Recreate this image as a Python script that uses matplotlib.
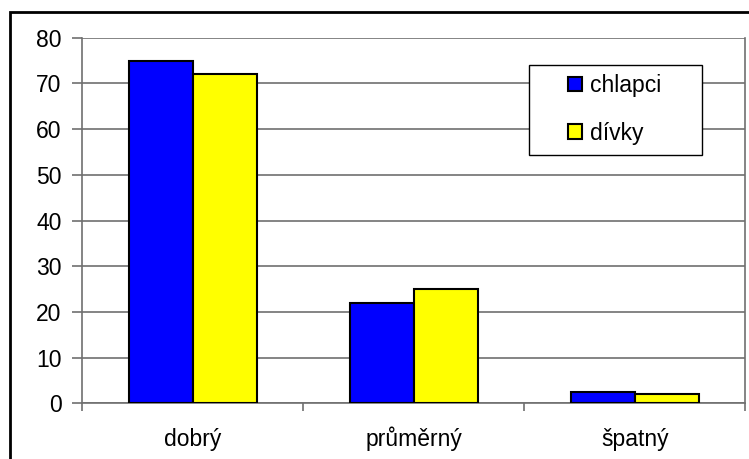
import matplotlib.pyplot as plt
from matplotlib.patches import Rectangle
import numpy as np

plt.rcParams['font.family'] = ['Liberation Sans', 'DejaVu Sans']

kategorie = ['dobrý', 'průměrný', 'špatný']
chlapci = [75, 22, 2.5]
divky = [72, 25, 2]

fig = plt.figure(figsize=(7.49, 4.59), dpi=100)
ax = fig.add_axes([0.1101, 0.1213, 0.8852, 0.7966])

x = np.arange(len(kategorie))
w = 0.29
ax.bar(x - w / 2, chlapci, w, color='#0000ff', edgecolor='black', linewidth=1.5,
       label='chlapci', zorder=3)
ax.bar(x + w / 2, divky, w, color='#ffff00', edgecolor='black', linewidth=1.5,
       label='dívky', zorder=3)

ax.set_xlim(-0.5, 2.5)
ax.set_ylim(0, 80)
ax.set_yticks(range(0, 81, 10))
ax.yaxis.grid(True, color='#707070', linewidth=1.2, zorder=0)

# hlavni znacky na hranicich kategorii, popisky na stredech
ax.set_xticks([-0.5, 0.5, 1.5, 2.5])
ax.set_xticklabels([])
ax.set_xticks(x, minor=True)
ax.set_xticklabels(kategorie, minor=True, fontsize=16.5)
for lbl in ax.get_xticklabels(minor=True):
    lbl.set_va('baseline')  # stejna uctaria i s "ů"
ax.tick_params(axis='x', which='minor', length=0, pad=30.5)
ax.tick_params(axis='x', which='major', length=6, width=1.2, color='#707070')
ax.tick_params(axis='y', length=7, width=1.2, color='#707070', labelsize=16.5, pad=8)

for s in ['left', 'bottom', 'right']:
    ax.spines[s].set_color('#707070')
    ax.spines[s].set_linewidth(1.2)
ax.spines['top'].set_visible(False)

# ramecek legendy zvlast, aby sedely okraje
ax.add_patch(Rectangle((0.6735, 0.679), 0.261, 0.246, transform=ax.transAxes,
                       facecolor='white', edgecolor='black', linewidth=1.0, zorder=5))
leg = ax.legend(loc='center left', bbox_to_anchor=(0.7323, 0.8036), fontsize=16.5,
                frameon=False, handlelength=0.6, handleheight=0.6, handletextpad=0.35,
                labelspacing=1.07, borderpad=0, borderaxespad=0)
leg.set_zorder(6)

# vnejsi ramecek grafu
fig.patches.append(Rectangle((10 / 749, -0.1), 1.2, 1 - 12 / 459 + 0.1,
                             transform=fig.transFigure, fill=False,
                             edgecolor='black', linewidth=2))

fig.savefig('out.png', dpi=100)
